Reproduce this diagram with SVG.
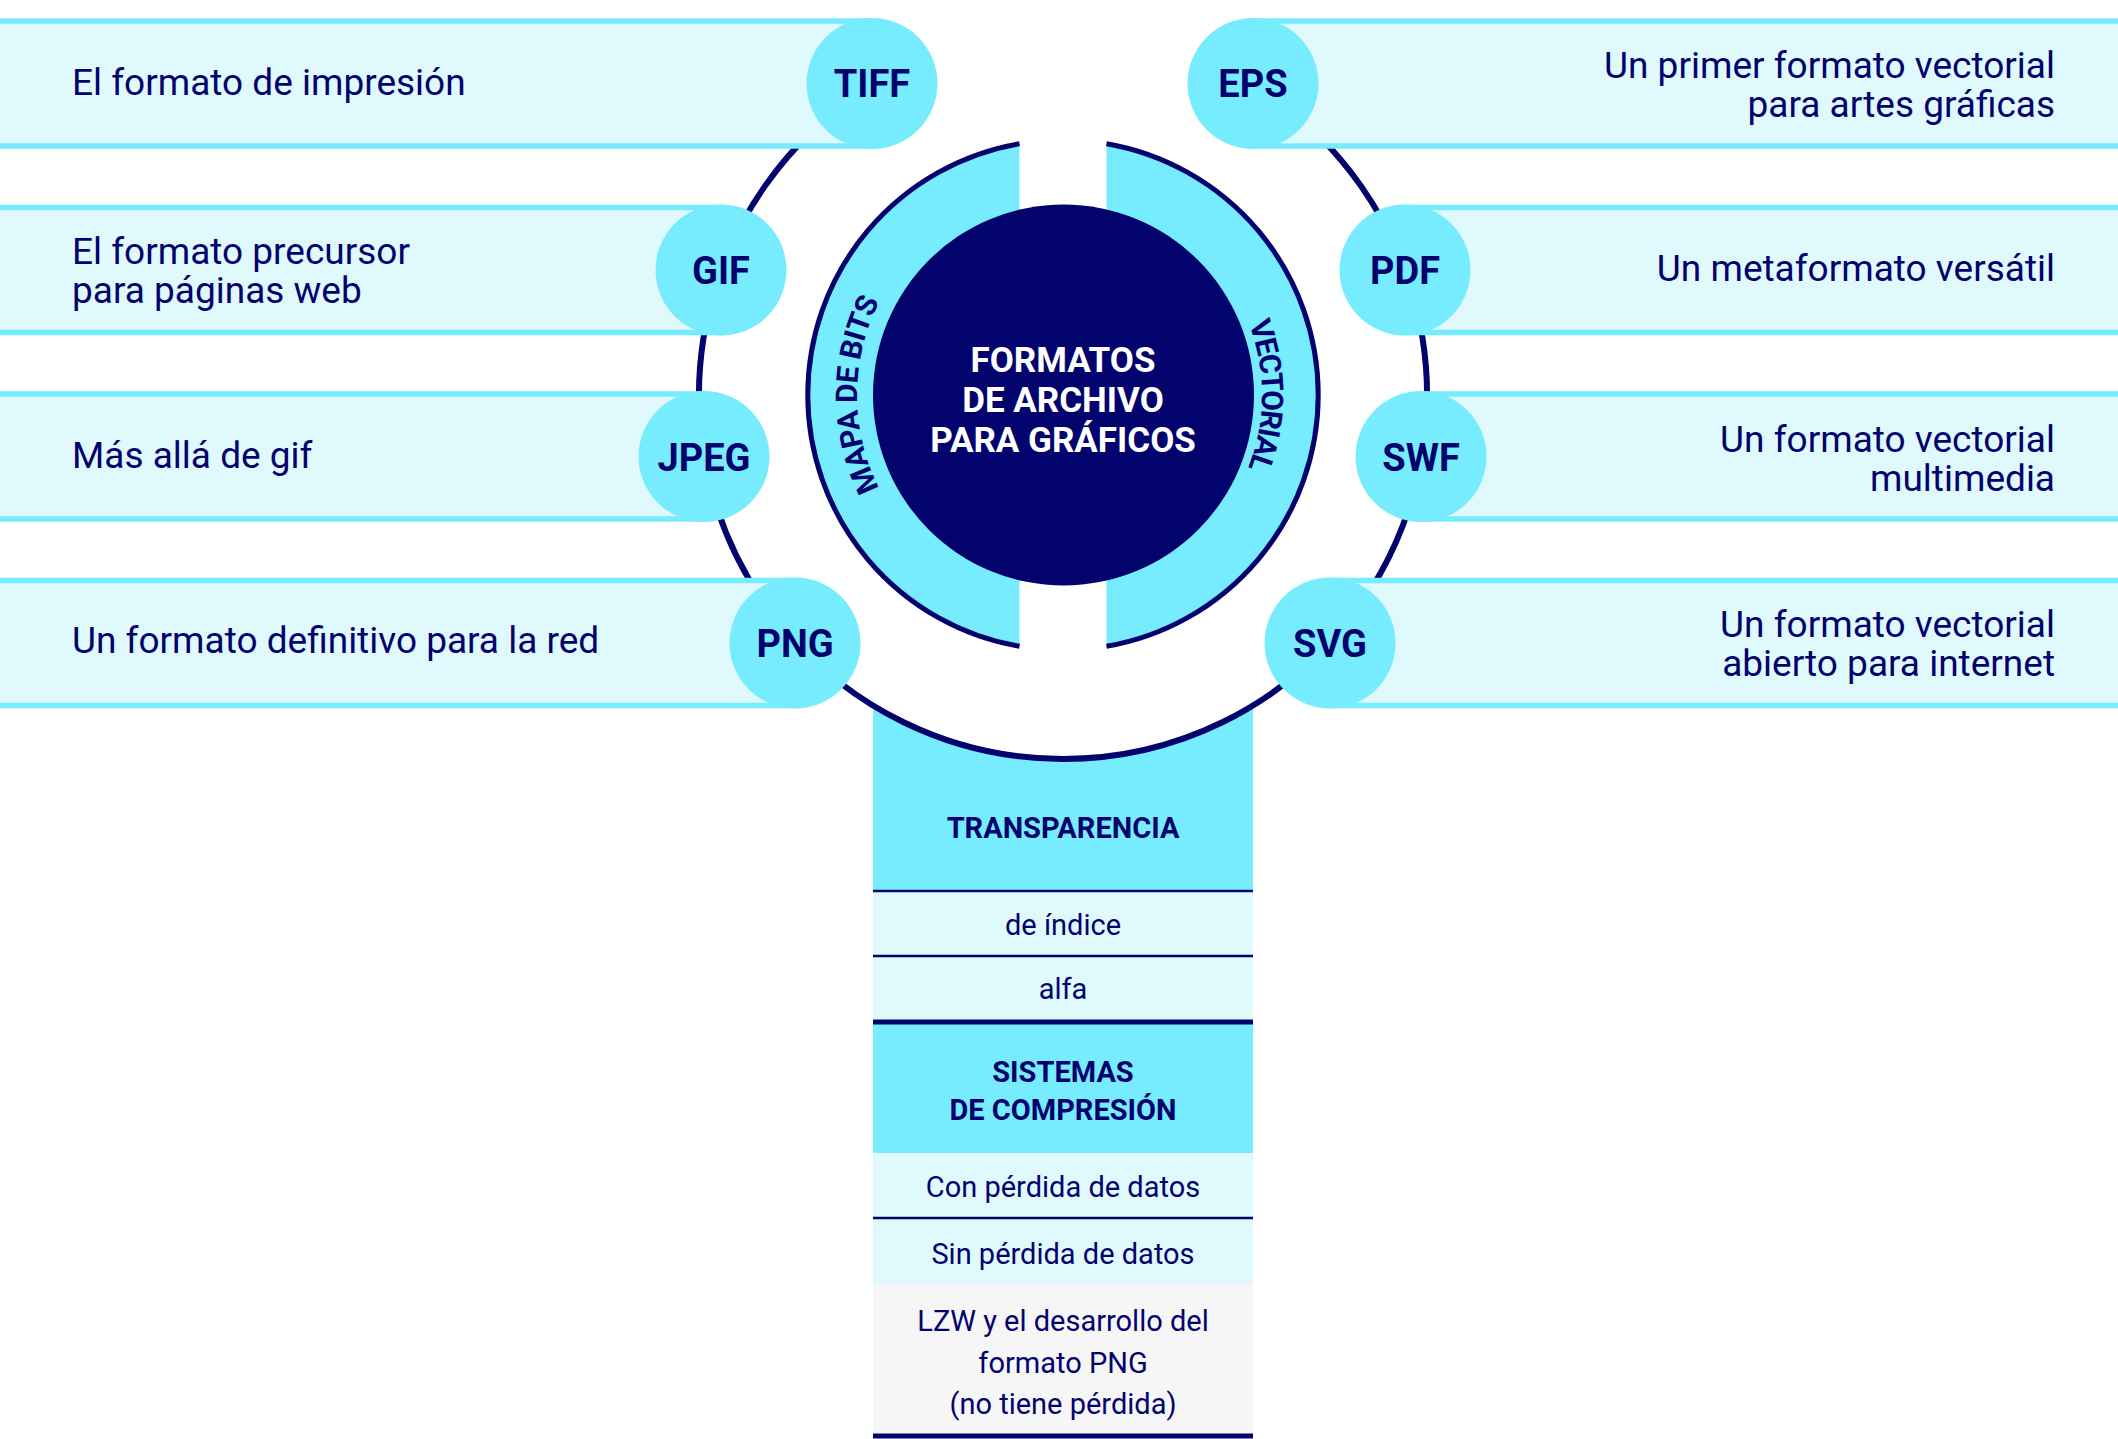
<svg xmlns="http://www.w3.org/2000/svg" width="2118" height="1439" viewBox="0 0 2118 1439">
<style>
.band{fill:#E0F9FD;stroke:#76ECFE;stroke-width:5.5}
.badge{fill:#76ECFE}
.navy{fill:#03036E}
.lbl{font-family:Roboto,"Noto Sans",sans-serif;font-weight:700;font-size:38px;fill:#03036E;text-anchor:middle}
.desc{font-family:Roboto,"Noto Sans",sans-serif;font-size:37px;fill:#03036E}
.r{text-anchor:end}
.cell{font-family:Roboto,"Noto Sans",sans-serif;font-size:29px;fill:#03036E;text-anchor:middle}
.b{font-weight:700}
.line{stroke:#03036E;stroke-width:2.5}
.thick{stroke:#03036E;stroke-width:5}
.light{fill:#E0F9FD}
.cyan{fill:#76ECFE}
.gray{fill:#F6F6F6}
.arc{font-family:Roboto,"Noto Sans",sans-serif;font-weight:700;font-size:30px;fill:#03036E}
.title{font-family:Roboto,"Noto Sans",sans-serif;font-weight:700;font-size:35px;fill:#FFFFFF;text-anchor:middle}
</style>
<defs>
<path id="pBits" d="M 960 573.4 A 206 206 0 0 1 960 216.6"/>
<path id="pVec" d="M 1162.5 222.7 A 199 199 0 0 1 1162.5 567.3"/>
</defs>
<rect width="2118" height="1439" fill="#FFFFFF"/>

<g id="table">
  <path class="cyan" d="M 873 705.5 A 364 364 0 0 0 1253 705.5 L 1253 891 L 873 891 Z"/>
  <rect class="light" x="873" y="891" width="380" height="131"/>
  <rect class="cyan" x="873" y="1022" width="380" height="131"/>
  <rect class="light" x="873" y="1153" width="380" height="131"/>
  <rect class="gray" x="873" y="1284" width="380" height="151"/>
  <line class="line" x1="873" y1="891" x2="1253" y2="891"/>
  <line class="line" x1="873" y1="956" x2="1253" y2="956"/>
  <line class="thick" x1="873" y1="1022" x2="1253" y2="1022"/>
  <line class="line" x1="873" y1="1218" x2="1253" y2="1218"/>
  <line class="thick" x1="873" y1="1436" x2="1253" y2="1436"/>
  <text class="cell b" x="1063" y="838">TRANSPARENCIA</text>
  <text class="cell" x="1063" y="935">de índice</text>
  <text class="cell" x="1063" y="999">alfa</text>
  <text class="cell b" x="1063" y="1082">SISTEMAS</text>
  <text class="cell b" x="1063" y="1120">DE COMPRESIÓN</text>
  <text class="cell" x="1063" y="1197">Con pérdida de datos</text>
  <text class="cell" x="1063" y="1264">Sin pérdida de datos</text>
  <text class="cell" x="1063" y="1331">LZW y el desarrollo del</text>
  <text class="cell" x="1063" y="1373">formato PNG</text>
  <text class="cell" x="1063" y="1414">(no tiene pérdida)</text>
</g>

<g id="connectors">
  <path d="M 1253.1 84.6 A 364 364 0 1 1 872.9 84.6" fill="none" stroke="#03036E" stroke-width="6"/>
</g>

<g id="tiff">
  <rect class="band" x="-5" y="21" width="877" height="125"/>
  <circle class="badge" cx="872" cy="83.5" r="65.5"/>
  <text class="lbl" x="872" y="97">TIFF</text>
  <text class="desc" x="72" y="94.5">El formato de impresión</text>
</g>
<g id="gif">
  <rect class="band" x="-5" y="207.5" width="726" height="125"/>
  <circle class="badge" cx="721" cy="270" r="65.5"/>
  <text class="lbl" x="721" y="284">GIF</text>
  <text class="desc" x="72" y="264">El formato precursor</text>
  <text class="desc" x="72" y="303">para páginas web</text>
</g>
<g id="jpeg">
  <rect class="band" x="-5" y="394" width="709" height="125"/>
  <circle class="badge" cx="704" cy="456.5" r="65.5"/>
  <text class="lbl" x="704" y="470.5">JPEG</text>
  <text class="desc" x="72" y="468">Más allá de gif</text>
</g>
<g id="png">
  <rect class="band" x="-5" y="580.5" width="800" height="125"/>
  <circle class="badge" cx="795" cy="643" r="65.5"/>
  <text class="lbl" x="795" y="657">PNG</text>
  <text class="desc" x="72" y="653">Un formato definitivo para la red</text>
</g>

<g id="eps">
  <rect class="band" x="1253" y="21" width="872" height="125"/>
  <circle class="badge" cx="1253" cy="83.5" r="65.5"/>
  <text class="lbl" x="1253" y="97">EPS</text>
  <text class="desc r" x="2055" y="78">Un primer formato vectorial</text>
  <text class="desc r" x="2055" y="117">para artes gráficas</text>
</g>
<g id="pdf">
  <rect class="band" x="1405" y="207.5" width="720" height="125"/>
  <circle class="badge" cx="1405" cy="270" r="65.5"/>
  <text class="lbl" x="1405" y="284">PDF</text>
  <text class="desc r" x="2055" y="281">Un metaformato versátil</text>
</g>
<g id="swf">
  <rect class="band" x="1421" y="394" width="704" height="125"/>
  <circle class="badge" cx="1421" cy="456.5" r="65.5"/>
  <text class="lbl" x="1421" y="470.5">SWF</text>
  <text class="desc r" x="2055" y="452">Un formato vectorial</text>
  <text class="desc r" x="2055" y="491">multimedia</text>
</g>
<g id="svg">
  <rect class="band" x="1330" y="580.5" width="795" height="125"/>
  <circle class="badge" cx="1330" cy="643" r="65.5"/>
  <text class="lbl" x="1330" y="657">SVG</text>
  <text class="desc r" x="2055" y="637">Un formato vectorial</text>
  <text class="desc r" x="2055" y="676">abierto para internet</text>
</g>

<g id="bitmap">
  <path class="cyan" d="M 1019.5 143.7 A 255 255 0 0 0 1019.5 646.3 Z"/>
  <path d="M 1019.5 143.7 A 255 255 0 0 0 1019.5 646.3" fill="none" stroke="#03036E" stroke-width="5"/>
</g>
<g id="vector">
  <path class="cyan" d="M 1106.5 143.7 A 255 255 0 0 1 1106.5 646.3 Z"/>
  <path d="M 1106.5 143.7 A 255 255 0 0 1 1106.5 646.3" fill="none" stroke="#03036E" stroke-width="5"/>
</g>
<g id="center">
  <circle class="navy" cx="1063.5" cy="395" r="190.5"/>
  <text class="title" x="1063" y="372">FORMATOS</text>
  <text class="title" x="1063" y="412">DE ARCHIVO</text>
  <text class="title" x="1063" y="452">PARA GRÁFICOS</text>
</g>
<g id="bitmap-label">
  <text class="arc" letter-spacing="-0.5"><textPath href="#pBits" startOffset="50%" text-anchor="middle">MAPA DE BITS</textPath></text>
</g>
<g id="vector-label">
  <text class="arc" letter-spacing="-1.5"><textPath href="#pVec" startOffset="50%" text-anchor="middle">VECTORIAL</textPath></text>
</g>
</svg>
